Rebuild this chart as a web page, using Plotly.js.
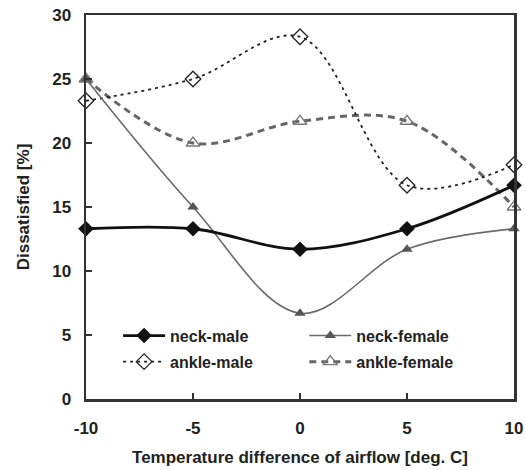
<!DOCTYPE html>
<html><head><meta charset="utf-8">
<script src="https://cdn.plot.ly/plotly-3.0.1.min.js"></script>
<style>html,body{margin:0;padding:0;background:#fff}</style>
</head><body><div id="chart" style="width:526px;height:470px"></div>
<script>
var tempDiff = [-10, -5, 0, 5, 10];
var xTickLabels = ['-10', '-5', '0', '5', '10'];
var neckMale = [13.3, 13.3, 11.7, 13.3, 16.7];
var neckFemale = [25, 15, 6.7, 11.7, 13.3];
var ankleMale = [23.3, 25, 28.3, 16.7, 18.3];
var ankleFemale = [25, 20, 21.7, 21.7, 15];

var F = 'Liberation Sans, Arial, sans-serif';
var traces = [
  {x: tempDiff, y: ankleFemale, name: 'ankle-female', mode: 'lines+markers', legend: 'legend4',
   line: {shape: 'spline', smoothing: 1, color: '#666', width: 3, dash: '7px,5px'},
   marker: {symbol: 'triangle-up-open', size: 12, color: '#777', line: {width: 1.3, color: '#777'}}, cliponaxis: false},
  {x: tempDiff, y: ankleMale, name: 'ankle-male', mode: 'lines+markers', legend: 'legend3',
   line: {shape: 'spline', smoothing: 1, color: '#222', width: 1.8, dash: '3px,4px'},
   marker: {symbol: 'diamond-open', size: 12, color: '#222', line: {width: 1.3, color: '#222'}}, cliponaxis: false},
  {x: tempDiff, y: neckFemale, name: 'neck-female', mode: 'lines+markers', legend: 'legend2',
   line: {shape: 'spline', smoothing: 1, color: '#6a6a6a', width: 1.6},
   marker: {symbol: 'triangle-up', size: 10, color: '#555'}, cliponaxis: false},
  {x: tempDiff, y: neckMale, name: 'neck-male', mode: 'lines+markers', legend: 'legend',
   line: {shape: 'spline', smoothing: 1, color: '#111', width: 2.8},
   marker: {symbol: 'diamond', size: 12, color: '#111'}, cliponaxis: false}
];
function lg(x, y) {
  return {x: x, y: y, xanchor: 'left', yanchor: 'middle', bgcolor: 'rgba(0,0,0,0)',
    font: {family: F, size: 16, color: '#222', weight: 'bold'}, itemwidth: 42};
}
var tf = {family: F, size: 17, color: '#222', weight: 'bold'};
var layout = {
  width: 526, height: 470,
  margin: {l: 86, r: 12, t: 15, b: 71},
  paper_bgcolor: '#fff', plot_bgcolor: '#fff',
  font: {family: F, size: 15, color: '#222'},
  xaxis: {range: [-10, 10], tickmode: 'array', tickvals: tempDiff, ticktext: xTickLabels,
    ticks: 'inside', ticklen: 6, tickwidth: 2, tickcolor: '#333',
    showline: true, linewidth: 2.5, linecolor: '#333', mirror: true, showgrid: false, zeroline: false,
    tickfont: tf, ticklabelstandoff: 12,
    title: {text: 'Temperature difference of airflow [deg. C]', font: {family: F, size: 17, color: '#222', weight: 'bold'}, standoff: 14}},
  yaxis: {range: [0, 30], dtick: 5, ticks: 'inside', ticklen: 6, tickwidth: 2, tickcolor: '#333',
    showline: true, linewidth: 2.5, linecolor: '#333', mirror: true, showgrid: false, zeroline: false,
    tickfont: tf, ticklabelstandoff: 9,
    title: {text: 'Dissatisfied [%]', font: {family: F, size: 17, color: '#222', weight: 'bold'}, standoff: 18}},
  showlegend: true,
  legend: lg(0.075, 0.165),
  legend2: lg(0.51, 0.165),
  legend3: lg(0.075, 0.097),
  legend4: lg(0.51, 0.097)
};
Plotly.newPlot('chart', traces, layout, {displayModeBar: false, staticPlot: true});
</script></body></html>
